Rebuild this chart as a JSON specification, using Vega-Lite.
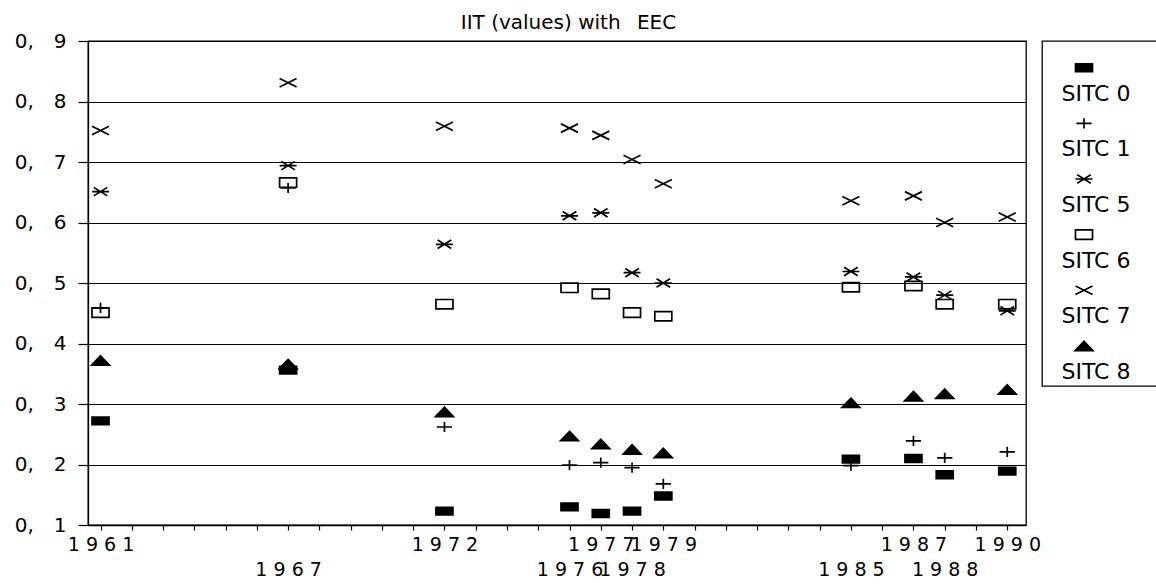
{
  "$schema": "https://vega.github.io/schema/vega-lite/v6.json",
  "background": "white",
  "padding": {"left": 12, "top": 13, "right": 0, "bottom": 4},
  "title": {"text": "IIT (values) with\u2002 EEC", "fontSize": 20, "fontWeight": "normal", "font": "DejaVu Sans", "color": "black", "offset": -3, "anchor": "middle", "dx": -18},
  "config": {"font": "DejaVu Sans", "view": {"stroke": "black", "strokeWidth": 1.3}},
  "datasets": {
    "iit": [
      {"year": 1961, "series": "SITC 0", "value": 0.272},
      {"year": 1961, "series": "SITC 1", "value": 0.459},
      {"year": 1961, "series": "SITC 5", "value": 0.651},
      {"year": 1961, "series": "SITC 6", "value": 0.451},
      {"year": 1961, "series": "SITC 7", "value": 0.752},
      {"year": 1961, "series": "SITC 8", "value": 0.372},
      {"year": 1967, "series": "SITC 0", "value": 0.356},
      {"year": 1967, "series": "SITC 1", "value": 0.657},
      {"year": 1967, "series": "SITC 5", "value": 0.694},
      {"year": 1967, "series": "SITC 6", "value": 0.666},
      {"year": 1967, "series": "SITC 7", "value": 0.831},
      {"year": 1967, "series": "SITC 8", "value": 0.366},
      {"year": 1972, "series": "SITC 0", "value": 0.123},
      {"year": 1972, "series": "SITC 1", "value": 0.262},
      {"year": 1972, "series": "SITC 5", "value": 0.564},
      {"year": 1972, "series": "SITC 6", "value": 0.465},
      {"year": 1972, "series": "SITC 7", "value": 0.759},
      {"year": 1972, "series": "SITC 8", "value": 0.287},
      {"year": 1976, "series": "SITC 0", "value": 0.130},
      {"year": 1976, "series": "SITC 1", "value": 0.199},
      {"year": 1976, "series": "SITC 5", "value": 0.611},
      {"year": 1976, "series": "SITC 6", "value": 0.492},
      {"year": 1976, "series": "SITC 7", "value": 0.756},
      {"year": 1976, "series": "SITC 8", "value": 0.247},
      {"year": 1977, "series": "SITC 0", "value": 0.119},
      {"year": 1977, "series": "SITC 1", "value": 0.203},
      {"year": 1977, "series": "SITC 5", "value": 0.616},
      {"year": 1977, "series": "SITC 6", "value": 0.482},
      {"year": 1977, "series": "SITC 7", "value": 0.744},
      {"year": 1977, "series": "SITC 8", "value": 0.234},
      {"year": 1978, "series": "SITC 0", "value": 0.123},
      {"year": 1978, "series": "SITC 1", "value": 0.195},
      {"year": 1978, "series": "SITC 5", "value": 0.517},
      {"year": 1978, "series": "SITC 6", "value": 0.451},
      {"year": 1978, "series": "SITC 7", "value": 0.704},
      {"year": 1978, "series": "SITC 8", "value": 0.225},
      {"year": 1979, "series": "SITC 0", "value": 0.148},
      {"year": 1979, "series": "SITC 1", "value": 0.168},
      {"year": 1979, "series": "SITC 5", "value": 0.500},
      {"year": 1979, "series": "SITC 6", "value": 0.445},
      {"year": 1979, "series": "SITC 7", "value": 0.664},
      {"year": 1979, "series": "SITC 8", "value": 0.219},
      {"year": 1985, "series": "SITC 0", "value": 0.209},
      {"year": 1985, "series": "SITC 1", "value": 0.198},
      {"year": 1985, "series": "SITC 5", "value": 0.519},
      {"year": 1985, "series": "SITC 6", "value": 0.493},
      {"year": 1985, "series": "SITC 7", "value": 0.636},
      {"year": 1985, "series": "SITC 8", "value": 0.302},
      {"year": 1987, "series": "SITC 0", "value": 0.210},
      {"year": 1987, "series": "SITC 1", "value": 0.239},
      {"year": 1987, "series": "SITC 5", "value": 0.510},
      {"year": 1987, "series": "SITC 6", "value": 0.495},
      {"year": 1987, "series": "SITC 7", "value": 0.644},
      {"year": 1987, "series": "SITC 8", "value": 0.313},
      {"year": 1988, "series": "SITC 0", "value": 0.183},
      {"year": 1988, "series": "SITC 1", "value": 0.211},
      {"year": 1988, "series": "SITC 5", "value": 0.480},
      {"year": 1988, "series": "SITC 6", "value": 0.465},
      {"year": 1988, "series": "SITC 7", "value": 0.600},
      {"year": 1988, "series": "SITC 8", "value": 0.317},
      {"year": 1990, "series": "SITC 0", "value": 0.189},
      {"year": 1990, "series": "SITC 1", "value": 0.221},
      {"year": 1990, "series": "SITC 5", "value": 0.454},
      {"year": 1990, "series": "SITC 6", "value": 0.465},
      {"year": 1990, "series": "SITC 7", "value": 0.609},
      {"year": 1990, "series": "SITC 8", "value": 0.324}
    ],
    "legend": [
      {"series": "SITC 0"},
      {"series": "SITC 1"},
      {"series": "SITC 5"},
      {"series": "SITC 6"},
      {"series": "SITC 7"},
      {"series": "SITC 8"}
    ]
  },
  "hconcat": [
    {
      "width": 938,
      "height": 484,
      "data": {"name": "iit"},
      "mark": {"type": "point", "stroke": "black", "strokeWidth": 1.7, "opacity": 1, "size": 289},
      "encoding": {
        "x": {
          "field": "year", "type": "quantitative",
          "scale": {"domain": [1960.6, 1990.6], "nice": false, "zero": false},
          "axis": {
            "title": null, "grid": false, "format": "d",
            "values": [1961,1962,1963,1964,1965,1966,1967,1968,1969,1970,1971,1972,1973,1974,1975,1976,1977,1978,1979,1980,1981,1982,1983,1984,1985,1986,1987,1988,1989,1990],
            "labelExpr": "indexof([1961,1972,1977,1979,1987,1990], datum.value) >= 0 ? join(split(datum.label, ''), ' ') : (indexof([1967,1976,1978,1985,1988], datum.value) >= 0 ? ['', join(split(datum.label, ''), ' ')] : '')",
            "labelOverlap": false, "labelFlush": false, "labelBound": false,
            "labelFontSize": 19, "labelColor": "black", "labelLineHeight": 25,
            "labelPadding": 5, "tickSize": 5, "tickColor": "black", "tickWidth": 1.2,
            "domainColor": "black", "domainWidth": 1.3
          }
        },
        "y": {
          "field": "value", "type": "quantitative",
          "scale": {"domain": [0.1, 0.9], "nice": false, "zero": false},
          "axis": {
            "title": null, "values": [0.1,0.2,0.3,0.4,0.5,0.6,0.7,0.8,0.9],
            "labelExpr": "replace(format(datum.value, '.1f'), '.', ',\u2003')",
            "grid": true, "gridColor": "black", "gridWidth": 1.2, "gridOpacity": 1,
            "tickSize": 10, "tickColor": "black", "tickWidth": 1.2,
            "domainColor": "black", "domainWidth": 1.3,
            "labelFontSize": 20, "labelColor": "black", "labelPadding": 12,
            "minExtent": 75, "maxExtent": 75
          }
        },
        "shape": {
          "field": "series", "type": "nominal", "legend": null,
          "scale": {
            "domain": ["SITC 0","SITC 1","SITC 5","SITC 6","SITC 7","SITC 8"],
            "range": [
              "M-1,-0.45H1V0.45H-1Z",
              "M-0.9,0H0.9M0,-0.6V0.6",
              "M-1,0H1M-0.8,-0.5L0.8,0.5M-0.8,0.5L0.8,-0.5",
              "M-1,-0.55H1V0.55H-1Z",
              "M-1,-0.5L1,0.5M-1,0.5L1,-0.5",
              "M0,-0.55L1.05,0.55H-1.05Z"
            ]
          }
        },
        "fill": {
          "field": "series", "type": "nominal", "legend": null,
          "scale": {
            "domain": ["SITC 0","SITC 1","SITC 5","SITC 6","SITC 7","SITC 8"],
            "range": ["black","transparent","transparent","transparent","transparent","black"]
          }
        }
      }
    },
    {
      "width": 118,
      "height": 345,
      "data": {"name": "legend"},
      "layer": [
        {
          "mark": {"type": "point", "stroke": "black", "strokeWidth": 1.7, "opacity": 1, "size": 289, "xOffset": -17},
          "encoding": {
            "y": {"field": "series", "type": "nominal", "axis": null,
                  "scale": {"type": "point", "domain": ["SITC 0","SITC 1","SITC 5","SITC 6","SITC 7","SITC 8"], "padding": 0.6, "align": 0.4}},
            "shape": {
              "field": "series", "type": "nominal", "legend": null,
              "scale": {
                "domain": ["SITC 0","SITC 1","SITC 5","SITC 6","SITC 7","SITC 8"],
                "range": [
                  "M-1,-0.45H1V0.45H-1Z",
                  "M-0.9,0H0.9M0,-0.6V0.6",
                  "M-1,0H1M-0.8,-0.5L0.8,0.5M-0.8,0.5L0.8,-0.5",
                  "M-1,-0.55H1V0.55H-1Z",
                  "M-1,-0.5L1,0.5M-1,0.5L1,-0.5",
                  "M0,-0.55L1.05,0.55H-1.05Z"
                ]
              }
            },
            "fill": {
              "field": "series", "type": "nominal", "legend": null,
              "scale": {
                "domain": ["SITC 0","SITC 1","SITC 5","SITC 6","SITC 7","SITC 8"],
                "range": ["black","transparent","transparent","transparent","transparent","black"]
              }
            }
          }
        },
        {
          "mark": {"type": "text", "fontSize": 22, "dy": 26, "xOffset": -5, "color": "black", "font": "DejaVu Sans"},
          "encoding": {
            "y": {"field": "series", "type": "nominal", "axis": null,
                  "scale": {"type": "point", "domain": ["SITC 0","SITC 1","SITC 5","SITC 6","SITC 7","SITC 8"], "padding": 0.6, "align": 0.4}},
            "text": {"field": "series"}
          }
        }
      ]
    }
  ],
  "spacing": 16,
  "bounds": "flush"
}
